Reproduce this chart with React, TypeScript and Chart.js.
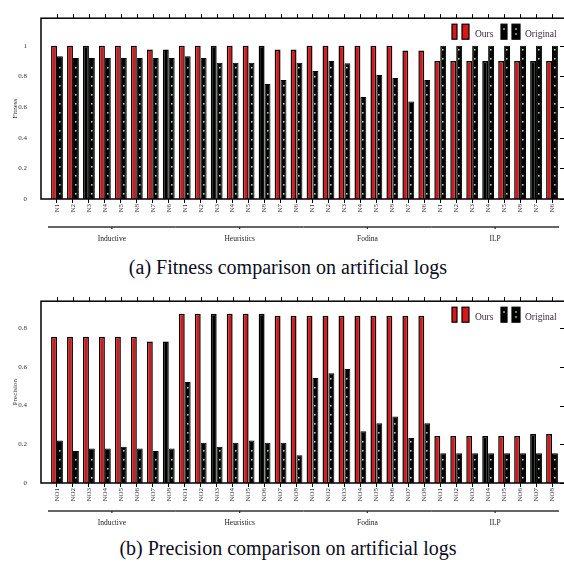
import React, { useEffect, useRef } from "react";
import { Chart, registerables } from "chart.js";
Chart.register(...registerables);

const groupNames = ["Inductive", "Heuristics", "Fodina", "ILP"];
const fitnessTickLabels = ["N1", "N2", "N3", "N4", "N5", "N8", "N7", "N6"];
const precisionTickLabels = ["NO1", "NO2", "NO3", "NO4", "NO5", "NO6", "NO7", "NO8"];

const fitnessOurs = [
  1, 1, 1, 1, 1, 1, 0.975, 0.975,
  1, 1, 1, 1, 1, 1, 0.975, 0.975,
  1, 1, 1, 1, 1, 1, 0.97, 0.97,
  0.9, 0.9, 0.9, 0.9, 0.9, 0.9, 0.9, 0.9,
];
const fitnessOriginal = [
  0.932, 0.92, 0.92, 0.92, 0.92, 0.92, 0.92, 0.92,
  0.932, 0.92, 0.89, 0.89, 0.89, 0.75, 0.777, 0.89,
  0.835, 0.9, 0.886, 0.665, 0.81, 0.79, 0.637, 0.777,
  1, 1, 1, 1, 1, 1, 1, 1,
];
const precisionOurs = [
  0.756, 0.756, 0.756, 0.756, 0.756, 0.756, 0.731, 0.731,
  0.875, 0.875, 0.875, 0.875, 0.875, 0.875, 0.865, 0.865,
  0.865, 0.865, 0.865, 0.865, 0.865, 0.865, 0.865, 0.865,
  0.243, 0.243, 0.243, 0.243, 0.243, 0.243, 0.253, 0.253,
];
const precisionOriginal = [
  0.22, 0.165, 0.178, 0.178, 0.188, 0.178, 0.165, 0.178,
  0.522, 0.208, 0.188, 0.208, 0.22, 0.208, 0.208, 0.144,
  0.543, 0.567, 0.589, 0.267, 0.309, 0.344, 0.233, 0.309,
  0.154, 0.154, 0.154, 0.154, 0.154, 0.154, 0.154, 0.154,
];
// style only: "Ours" bars that render dark in the reference
const fitnessDarkOurs = [2, 7, 10, 13, 27, 30];
const precisionDarkOurs = [7, 10, 13, 27, 30];

const RED = "#d81818";
const GREEN_DOT = "#9fd49f";
const FONT = "'Liberation Serif', 'DejaVu Serif', serif";
const W = 564;
const H = 252;

type PanelProps = {
  tickLabels: string[];
  ours: number[];
  original: number[];
  darkOurs: number[];
  yMax: number;
  yTitle: string;
  plotTop: number;
  plotBottom: number;
  top: number;
};

function Panel(p: PanelProps) {
  const ref = useRef<HTMLCanvasElement | null>(null);
  useEffect(() => {
    const canvas = ref.current!;
    const labels = groupNames.flatMap(() => p.tickLabels);
    const oursColors = p.ours.map((_, i) => (p.darkOurs.includes(i) ? "#000" : RED));
    const frameLeft = 41;
    const frameRight = 565;

    const decor = {
      id: "decor",
      afterDatasetsDraw(chart: any) {
        const ctx = chart.ctx;
        const meta = chart.getDatasetMeta(1);
        ctx.save();
        ctx.fillStyle = GREEN_DOT;
        meta.data.forEach((el: any) => {
          const { x, y, base } = el.getProps(["x", "y", "base"], true);
          for (let yy = base - 5; yy > y + 3; yy -= 9) {
            ctx.fillRect(Math.round(x) - 1, Math.round(yy) - 1, 1.6, 1.6);
          }
        });
        ctx.restore();
      },
      afterDraw(chart: any) {
        const ctx = chart.ctx;
        const { top, bottom } = chart.chartArea;
        const xs = chart.scales.x;
        const ys = chart.scales.y;
        ctx.save();
        // frame
        ctx.strokeStyle = "#000";
        ctx.lineWidth = 1.5;
        ctx.strokeRect(frameLeft, top, frameRight - frameLeft, bottom - top);
        // top ticks
        ctx.lineWidth = 1;
        ctx.beginPath();
        for (let i = 0; i < labels.length; i++) {
          const x = Math.round(xs.getPixelForValue(i)) + 0.5;
          ctx.moveTo(x, top);
          ctx.lineTo(x, top - 4);
        }
        // right ticks
        ys.ticks.forEach((t: any) => {
          const y = Math.round(ys.getPixelForValue(t.value)) + 0.5;
          ctx.moveTo(frameRight, y);
          ctx.lineTo(frameRight - 5, y);
        });
        ctx.stroke();
        // group brackets
        const n = p.tickLabels.length;
        const step = xs.getPixelForValue(1) - xs.getPixelForValue(0);
        ctx.strokeStyle = "#333";
        ctx.lineWidth = 1.3;
        ctx.fillStyle = "#222";
        ctx.font = `7.5px ${FONT}`;
        ctx.textAlign = "center";
        ctx.textBaseline = "middle";
        groupNames.forEach((g, gi) => {
          const x0 = xs.getPixelForValue(gi * n) - step / 2 - 1;
          const x1 = xs.getPixelForValue(gi * n + n - 1) + step / 2 - 1;
          const by = bottom + 28;
          const cx = (x0 + x1) / 2;
          ctx.beginPath();
          ctx.moveTo(x0, by);
          ctx.lineTo(x1, by);
          ctx.moveTo(cx, by);
          ctx.lineTo(cx, by + 2);
          ctx.stroke();
          ctx.fillText(g, cx, bottom + 40);
        });
        // legend
        const ly = top + 6;
        const lh = 15;
        const sw = (x: number, w: number, fill: string, dots: number) => {
          ctx.fillStyle = fill;
          ctx.fillRect(x, ly, w, lh);
          ctx.strokeStyle = "#000";
          ctx.lineWidth = 1.2;
          ctx.strokeRect(x, ly, w, lh);
          ctx.fillStyle = GREEN_DOT;
          for (let k = 0; k < dots; k++) ctx.fillRect(x + w / 2 - 0.8, ly + 4 + k * 5, 1.6, 1.6);
        };
        sw(452, 5, RED, 0);
        sw(462, 7, RED, 0);
        sw(501, 6, "#000", 1);
        sw(512, 8, "#000", 2);
        ctx.fillStyle = "#3a2a40";
        ctx.font = `9.5px ${FONT}`;
        ctx.textAlign = "left";
        ctx.textBaseline = "middle";
        ctx.fillText("Ours", 475, ly + 10);
        ctx.fillText("Original", 525, ly + 10);
        ctx.restore();
      },
    };

    const chart = new Chart(canvas, {
      type: "bar",
      data: {
        labels,
        datasets: [
          {
            label: "Ours",
            data: p.ours,
            backgroundColor: oursColors,
            borderColor: "#000",
            borderWidth: 1.5,
          },
          {
            label: "Original",
            data: p.original,
            backgroundColor: "#000",
            borderColor: "#000",
            borderWidth: 1,
          },
        ],
      },
      options: {
        animation: false,
        responsive: false,
        devicePixelRatio: 1,
        layout: { padding: { left: 0, right: W - 560, top: p.plotTop, bottom: 0 } },
        datasets: { bar: { categoryPercentage: 0.74, barPercentage: 1 } } as any,
        plugins: { legend: { display: false }, tooltip: { enabled: false } },
        scales: {
          x: {
            type: "category",
            offset: true,
            grid: {
              display: true,
              drawOnChartArea: false,
              drawTicks: true,
              tickLength: 4,
              tickWidth: 1,
              tickColor: "#000",
              offset: false,
            },
            border: { display: false },
            ticks: {
              autoSkip: false,
              minRotation: 90,
              maxRotation: 90,
              padding: 1,
              font: { family: FONT, size: 7 },
              color: "#333",
            },
            afterFit: (s: any) => {
              s.height = H - p.plotBottom;
            },
          },
          y: {
            min: 0,
            max: p.yMax,
            grid: { display: false },
            border: { display: false },
            ticks: {
              stepSize: 0.2,
              includeBounds: false,
              padding: 14,
              font: { family: FONT, size: 7 },
              color: "#333",
              callback: (v: any) => String(+Number(v).toFixed(2)),
            },
            title: {
              display: true,
              text: p.yTitle,
              font: { family: FONT, size: 7 },
              color: "#333",
              padding: { top: 11, bottom: 0 },
            },
            afterFit: (s: any) => {
              s.width = 49;
            },
          },
        },
      } as any,
      plugins: [decor],
    });
    return () => chart.destroy();
  }, []);
  return (
    <canvas
      ref={ref}
      width={W}
      height={H}
      style={{ position: "absolute", left: 0, top: p.top, width: W, height: H }}
    />
  );
}

const captionStyle = (top: number): React.CSSProperties => ({
  position: "absolute",
  left: 0,
  width: 576,
  top,
  textAlign: "center",
  fontFamily: FONT,
  fontSize: 20,
  lineHeight: "20px",
  color: "#0c0c1c",
  whiteSpace: "nowrap",
});

export default function App() {
  return (
    <div style={{ position: "fixed", left: 0, top: 0, width: W, height: 563, background: "#fff", overflow: "hidden" }}>
      <Panel
        tickLabels={fitnessTickLabels}
        ours={fitnessOurs}
        original={fitnessOriginal}
        darkOurs={fitnessDarkOurs}
        yMax={1.18}
        yTitle="Fitness"
        plotTop={12}
        plotBottom={199}
        top={0}
      />
      <div style={captionStyle(257)}>(a) Fitness comparison on artificial logs</div>
      <Panel
        tickLabels={precisionTickLabels}
        ours={precisionOurs}
        original={precisionOriginal}
        darkOurs={precisionDarkOurs}
        yMax={0.94}
        yTitle="Precision"
        plotTop={13}
        plotBottom={200}
        top={283}
      />
      <div style={captionStyle(538)}>(b) Precision comparison on artificial logs</div>
    </div>
  );
}
